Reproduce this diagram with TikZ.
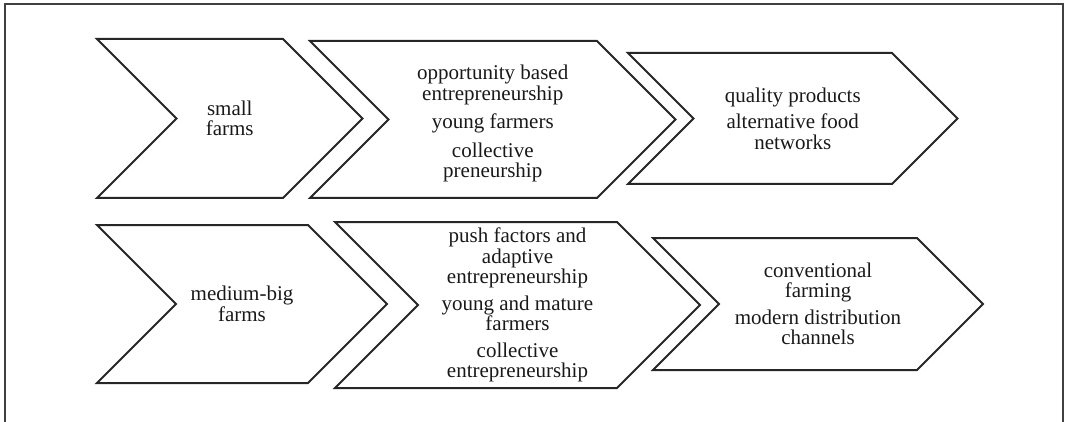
\documentclass[tikz,border=0pt]{standalone}
\usepackage{fontspec}
\setmainfont{Liberation Serif}
\newcommand{\chev}[5]{% name, xl, xr, ym, h
  \draw[chevline] (#2,#4-#5) -- (#3,#4-#5) -- (#3+#5,#4) -- (#3,#4+#5) -- (#2,#4+#5) -- (#2+#5,#4) -- cycle;
  \coordinate (#1) at ({(#2+#5+#3)/2},#4);
}
\tikzset{
  chevline/.style={line width=2pt, draw=black!85, line join=miter},
  frameline/.style={line width=1.5pt, draw=black!75},
  lbl/.style={align=center, inner sep=0pt, text=black!90,
    font=\fontsize{21}{20.5}\selectfont},
}
\begin{document}
\begin{tikzpicture}[x=1pt,y=-1pt]
\useasboundingbox (0,0) rectangle (1065,422);
\draw[frameline] (5,422) -- (5,4) -- (1063,4) -- (1063,422);
% row 1
\chev{A}{97}{283}{118.5}{79.5}
\chev{B}{310}{597}{119.5}{78.5}
\chev{C}{628}{892}{118.5}{65.5}
% row 2
\chev{D}{97}{308}{304}{79}
\chev{E}{335}{617}{305}{83}
\chev{F}{653}{917}{304}{66}
\node[lbl] (tA) at (A) {small\\farms};
\node[lbl] (tB) at ([yshift=-4pt]B) {opportunity based\\entrepreneurship\\[8pt]young farmers\\[8pt]collective\\preneurship};
\node[lbl] (tC) at (C) {quality products\\[6pt]alternative food\\networks};
\node[lbl] (tD) at (D) {medium-big\\farms};
\node[lbl] (tE) at (E) {push factors and\\adaptive\\entrepreneurship\\[6pt]young and mature\\farmers\\[6pt]collective\\entrepreneurship};
\node[lbl] (tF) at (F) {conventional\\farming\\[6pt]modern distribution\\channels};
\end{tikzpicture}
\end{document}
